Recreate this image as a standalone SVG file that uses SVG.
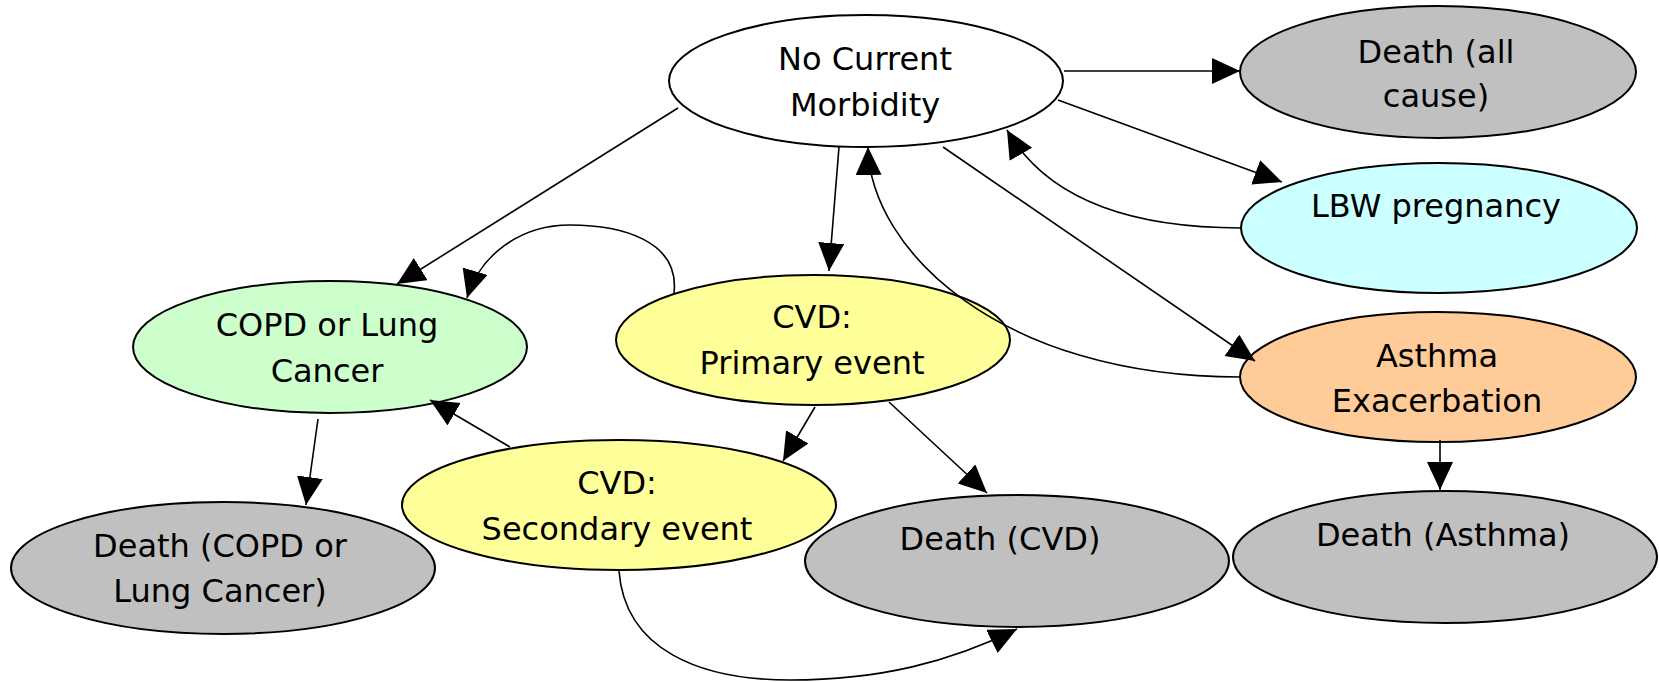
<svg xmlns="http://www.w3.org/2000/svg" width="1659" height="682" viewBox="0 0 1659 682">
<style>
.n{stroke:#000;stroke-width:2}
.t{font-family:"DejaVu Sans","Liberation Sans",sans-serif;font-size:32px;fill:#000;text-anchor:middle}
.e{fill:none;stroke:#000;stroke-width:1.6;marker-end:url(#ah)}
</style>
<defs>
<marker id="ah" markerUnits="userSpaceOnUse" markerWidth="30" markerHeight="28" refX="28" refY="13" orient="auto">
<path d="M0,0 L28,13 L0,26 z" fill="#000"/>
</marker>
</defs>
<rect width="1659" height="682" fill="#fff"/>
<g id="ncm">
<ellipse class="n" cx="866" cy="81" rx="197" ry="66" fill="#fff"/>
<text class="t" x="865" y="70">No Current</text>
<text class="t" x="865" y="116">Morbidity</text>
</g>
<g id="death-all">
<ellipse class="n" cx="1438" cy="72" rx="198" ry="66" fill="#c0c0c0"/>
<text class="t" x="1436" y="63">Death (all</text>
<text class="t" x="1436" y="107">cause)</text>
</g>
<g id="lbw">
<ellipse class="n" cx="1439" cy="228" rx="198" ry="65" fill="#ccffff"/>
<text class="t" x="1436" y="217">LBW pregnancy</text>
</g>
<g id="copd">
<ellipse class="n" cx="330" cy="347" rx="197" ry="66" fill="#ccffcc"/>
<text class="t" x="327" y="336">COPD or Lung</text>
<text class="t" x="327" y="382">Cancer</text>
</g>
<g id="cvd-primary">
<ellipse class="n" cx="813" cy="340" rx="197" ry="65" fill="#ffff99"/>
<text class="t" x="812" y="328">CVD:</text>
<text class="t" x="812" y="374">Primary event</text>
</g>
<g id="asthma">
<ellipse class="n" cx="1438" cy="377" rx="198" ry="65" fill="#ffcc99"/>
<text class="t" x="1437" y="367">Asthma</text>
<text class="t" x="1437" y="412">Exacerbation</text>
</g>
<g id="cvd-secondary">
<ellipse class="n" cx="619" cy="505" rx="217" ry="65" fill="#ffff99"/>
<text class="t" x="617" y="494">CVD:</text>
<text class="t" x="617" y="540">Secondary event</text>
</g>
<g id="death-copd">
<ellipse class="n" cx="223" cy="568" rx="212" ry="66" fill="#c0c0c0"/>
<text class="t" x="220" y="557">Death (COPD or</text>
<text class="t" x="220" y="602">Lung Cancer)</text>
</g>
<g id="death-cvd">
<ellipse class="n" cx="1017" cy="561" rx="212" ry="66" fill="#c0c0c0"/>
<text class="t" x="1000" y="550">Death (CVD)</text>
</g>
<g id="death-asthma">
<ellipse class="n" cx="1445" cy="557" rx="212" ry="66" fill="#c0c0c0"/>
<text class="t" x="1443" y="546">Death (Asthma)</text>
</g>
<g id="connectors">
<path class="e" d="M1064,71 L1240,71"/>
<path class="e" d="M1058,100 L1282,182"/>
<path class="e" d="M1241,228 C1140,228 1050,205 1007,130"/>
<path class="e" d="M678,108 L397,284"/>
<path class="e" d="M839,147 L829,271"/>
<path class="e" d="M943,147 L1255,361"/>
<path class="e" d="M1240,377 C1000,377 870,250 868,147"/>
<path class="e" d="M674,293 C680,240 620,225 570,225 C520,225 480,255 467,298"/>
<path class="e" d="M815,407 L783,461"/>
<path class="e" d="M889,402 L987,493"/>
<path class="e" d="M510,447 L430,400"/>
<path class="e" d="M318,419 L306,505"/>
<path class="e" d="M619,571 C625,650 700,680 790,680 C880,680 950,662 1017,629"/>
<path class="e" d="M1440,440 L1440,490"/>
</g>
</svg>
